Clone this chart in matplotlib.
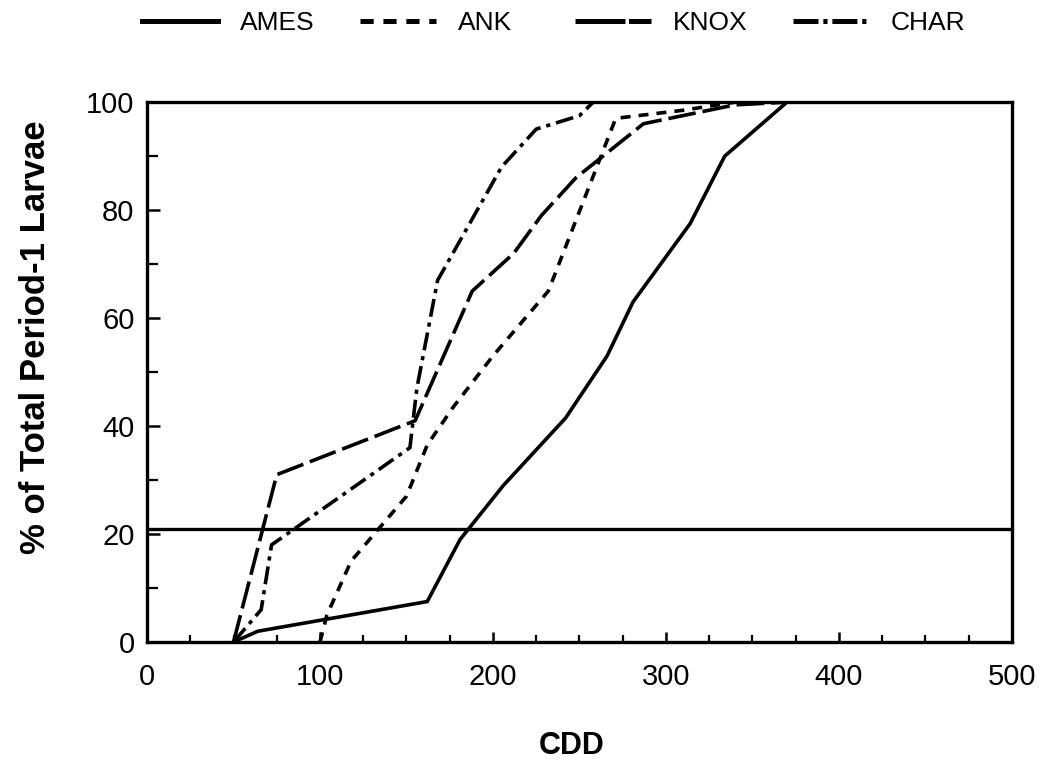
import matplotlib
matplotlib.use("Agg")
import matplotlib.pyplot as plt
from matplotlib.ticker import MultipleLocator

plt.rcParams["font.family"] = ["Liberation Sans", "DejaVu Sans"]
plt.rcParams["lines.scale_dashes"] = False

# Cumulative percent of period-1 larvae vs. cumulative degree-days
ames_cdd = [50, 64, 162, 181, 206, 242, 266, 281, 314, 334, 370]
ames_pct = [0, 2, 7.5, 19, 29, 41.5, 53, 63, 77.5, 90, 100]

ank_cdd = [100, 104, 118, 150, 162, 177, 200, 232, 271, 310, 340]
ank_pct = [0, 5, 15, 27, 36.5, 43.5, 53, 65, 97, 98.5, 100]

knox_cdd = [50, 75, 155, 188, 212, 228, 248, 287, 340, 370]
knox_pct = [0, 31, 41, 65, 72, 79, 86, 96, 99.5, 100]

char_cdd = [50, 66, 72, 152, 156, 168, 205, 225, 250, 258]
char_pct = [0, 6, 18, 36, 47, 67, 88, 95, 97.5, 100]

threshold_pct = 21

series = [
    ("AMES", ames_cdd, ames_pct, "-"),
    ("ANK", ank_cdd, ank_pct, (0, (7.2, 5.8))),
    ("KNOX", knox_cdd, knox_pct, (0, (20, 5))),
    ("CHAR", char_cdd, char_pct, (0, (13, 4.3, 3, 4.3))),
]

fig = plt.figure(figsize=(10.54, 7.68), dpi=100)
ax = fig.add_axes([0.1395, 0.164, 0.8205, 0.703])

handles = []
for name, xs, ys, ls in series:
    (ln,) = ax.plot(xs, ys, color="black", lw=2.6, label=name,
                    linestyle=ls, dash_capstyle="butt",
                    solid_joinstyle="miter")
    handles.append(ln)

ax.axhline(threshold_pct, color="black", lw=2.4)

ax.set_xlim(0, 500)
ax.set_ylim(0, 100)
ax.xaxis.set_major_locator(MultipleLocator(100))
ax.xaxis.set_minor_locator(MultipleLocator(25))
ax.yaxis.set_major_locator(MultipleLocator(20))
ax.yaxis.set_minor_locator(MultipleLocator(10))

ax.tick_params(axis="x", which="major", direction="in", length=7, width=1.8,
               labelsize=21, pad=15, top=False)
ax.tick_params(axis="x", which="minor", direction="in", length=5, width=1.6,
               top=False)
ax.tick_params(axis="y", which="major", direction="in", length=9, width=1.8,
               labelsize=21, pad=9, right=False)
ax.tick_params(axis="y", which="minor", direction="in", length=8, width=1.6,
               right=False)

for sp in ax.spines.values():
    sp.set_linewidth(2.4)

ax.set_xlabel("CDD", fontsize=22, fontweight="bold", va="center")
ax.xaxis.set_label_coords(0.491, -0.193)
ax.set_ylabel("% of Total Period-1 Larvae", fontsize=25, fontweight="bold",
              va="center")
ax.yaxis.set_label_coords(-0.129, 0.565)

# One legend entry per station, columns evenly spaced across the top
legend_x = [142, 360, 575, 793]
legend_dashes = ["-", (0, (9.5, 7)), (0, (36, 2.5)), (0, (18, 3.5, 3, 3.5))]
for h, x0, dash in zip(handles, legend_x, legend_dashes):
    leg = fig.legend(handles=[h], loc="center left",
                     bbox_to_anchor=(x0 / 1054, 1 - 23 / 768),
                     frameon=False, fontsize=19, handlelength=2.88,
                     handletextpad=0.83, borderpad=0, borderaxespad=0)
    for line in leg.get_lines():
        line.set_linewidth(3.6)
        line.set_linestyle(dash)

fig.savefig("out.png", dpi=100)
